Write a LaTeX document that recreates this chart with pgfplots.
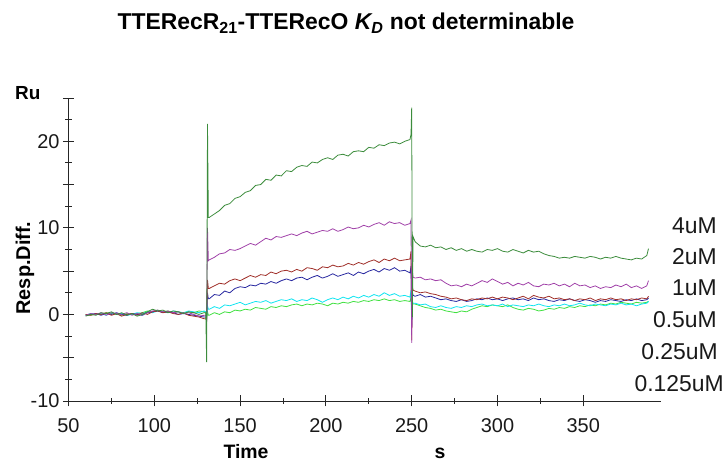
\documentclass[border=0pt]{standalone}
\usepackage{pgfplots}
\pgfplotsset{compat=1.18}
\usepackage{pgfplotstable}
\usepackage{fontspec}
\setmainfont{Liberation Sans}
\definecolor{cA}{HTML}{3C8C3C}
\definecolor{cB}{HTML}{A040A8}
\definecolor{cC}{HTML}{A0302A}
\definecolor{cD}{HTML}{2828A0}
\definecolor{cE}{HTML}{10E4F0}
\definecolor{cF}{HTML}{40E040}
\pgfplotstableread{
t g p r b c l
60 -0.2 -0.1 0.0 -0.1 -0.1 0.0
63 0.0 0.1 -0.1 0.0 0.1 -0.1
66 -0.1 0.0 0.1 0.1 0.0 0.1
69 0.2 0.2 0.0 -0.1 0.1 0.0
72 0.1 -0.1 0.2 0.1 -0.1 0.2
75 0.3 0.2 -0.1 0.0 0.2 0.1
78 0.0 0.1 0.1 0.2 0.0 0.0
81 0.2 0.0 -0.2 0.0 0.1 -0.1
84 -0.1 0.2 0.0 -0.1 -0.1 0.1
87 0.1 -0.1 0.1 0.1 0.0 0.0
90 -0.2 0.1 -0.1 0.0 0.2 0.1
93 0.0 0.0 0.2 -0.1 0.1 0.2
96 0.3 0.2 0.0 0.2 0.3 0.4
99 0.6 0.4 0.3 0.3 0.2 0.3
102 0.4 0.5 0.4 0.4 0.4 0.5
105 0.5 0.3 0.2 0.2 0.3 0.3
108 0.2 0.4 0.3 0.3 0.2 0.4
111 0.4 0.2 0.1 0.2 0.4 0.2
114 0.3 0.3 0.0 0.0 0.3 0.3
117 0.1 0.1 0.2 0.1 0.2 0.1
120 0.3 0.2 -0.1 0.0 0.4 0.3
123 0.2 0.0 -0.2 -0.1 0.3 0.2
126 0.0 -0.2 -0.3 -0.2 0.2 0.4
129 0.2 -0.1 -0.5 -0.3 0.4 0.3
130 0.2 -0.1 -0.5 -0.3 0.3 0.2
130.5 -5.5 -0.5 -0.6 -0.4 -0.2 -0.3
131 22 10 4 2.5 1.0 0.3
131.5 11.2 6.2 3.0 1.8 0.6 -0.1
132 11.2 6.3 3.0 1.8 0.6 -0.1
135 11.6 6.6 3.3 2.3 0.9 0.2
138 12.0 7.0 3.6 2.2 0.7 0.0
141 12.6 7.1 3.5 2.7 1.1 0.3
144 12.8 7.5 3.9 2.5 1.0 0.2
147 13.4 7.4 4.1 3.0 1.2 0.5
150 13.6 7.6 3.9 3.2 1.4 0.4
153 14.1 7.9 4.2 3.1 1.1 0.6
156 14.3 8.2 4.5 3.4 1.3 0.5
159 14.9 8.0 4.3 3.3 1.5 0.8
162 15.0 8.4 4.6 3.6 1.4 0.7
165 15.6 8.8 4.5 3.5 1.6 0.6
168 15.5 8.6 4.9 3.8 1.3 0.9
171 16.1 9.0 4.7 3.6 1.5 0.8
174 16.0 8.9 5.0 3.9 1.7 1.0
177 16.6 9.1 5.1 4.1 1.6 0.9
180 16.5 9.3 4.9 3.9 1.8 1.1
183 17.0 9.1 5.2 4.2 1.5 1.2
186 17.2 9.4 5.0 4.3 1.7 1.0
189 17.1 9.6 5.4 4.0 1.6 1.2
192 17.6 9.3 5.3 4.3 1.9 1.1
195 17.5 9.5 5.1 4.5 1.7 1.3
198 17.9 9.7 5.5 4.2 1.4 1.2
201 18.1 9.6 5.4 4.4 1.7 1.0
204 17.9 9.9 5.7 4.7 1.9 1.3
207 18.4 9.6 5.5 4.4 1.7 1.2
210 18.5 9.8 5.6 4.6 2.0 1.4
213 18.3 10.1 5.9 4.8 1.8 1.3
216 18.8 9.9 5.7 4.5 2.1 1.5
219 18.9 10.0 6.0 4.9 1.9 1.4
222 18.8 10.3 5.8 4.7 2.2 1.6
225 19.3 10.1 6.1 5.0 2.0 1.5
228 19.2 10.4 6.3 5.2 2.3 1.7
231 19.6 10.6 6.0 4.9 2.1 1.6
234 19.5 10.3 6.4 5.3 2.5 1.8
237 19.8 10.7 6.2 5.1 2.2 1.6
240 19.9 10.5 6.5 5.4 2.4 1.7
243 19.7 10.6 6.2 5.0 2.1 1.5
246 20.0 10.3 6.3 5.1 2.2 1.6
249 20.2 10.5 6.4 4.8 2.0 1.5
249.6 20.8 10.9 7.3 5.6 2.8 2.0
250 23.9 -3.3 -3.0 -1.5 -1.2 0.5
250.4 -0.3 5.0 3.2 2.6 1.5 1.3
250.8 9.0 4.3 2.8 2.2 1.3 1.2
252 8.4 4.2 2.7 2.1 1.3 1.2
255 7.9 4.3 2.5 2.3 1.1 1.0
258 7.8 4.0 2.6 2.0 1.2 0.8
261 8.0 4.1 2.4 2.1 0.9 0.7
264 7.7 3.9 2.3 1.9 0.8 0.5
267 7.8 4.0 2.1 1.7 1.0 0.6
270 7.5 3.6 2.0 1.8 0.8 0.4
273 7.7 3.3 1.8 1.6 0.7 0.3
276 7.4 3.4 1.9 1.5 0.9 0.2
279 7.6 3.2 1.7 1.7 0.8 0.4
282 7.3 3.5 1.6 1.5 1.0 0.3
285 7.5 3.3 1.8 1.6 0.9 0.6
288 7.3 3.6 1.7 1.8 1.1 0.8
291 7.2 3.9 1.9 1.7 1.2 1.0
294 7.5 3.7 1.8 1.9 1.0 0.9
297 7.4 4.1 2.0 1.7 1.1 1.1
300 7.6 3.8 1.8 1.8 1.0 1.0
303 7.3 3.5 2.0 1.6 1.2 0.9
306 7.2 3.7 1.9 1.8 0.9 1.1
309 7.5 3.3 1.7 1.9 1.1 0.8
312 7.3 3.6 1.9 1.7 1.0 0.6
315 7.1 3.4 2.1 1.8 0.9 0.5
318 7.4 3.7 1.8 1.6 1.1 0.7
321 7.2 3.3 2.2 1.9 1.0 0.6
324 7.3 3.2 2.0 1.7 1.2 0.4
327 7.0 3.5 1.9 1.8 1.0 0.5
330 6.8 3.4 2.1 1.6 0.9 0.7
333 6.7 3.6 1.8 1.5 1.1 0.6
336 6.5 3.3 1.9 1.7 1.0 0.8
339 6.6 3.5 1.7 1.6 1.2 0.7
342 6.5 3.2 1.8 1.8 1.0 0.9
345 6.7 3.6 1.6 1.6 1.1 0.8
348 6.6 3.3 1.8 1.5 1.3 1.0
351 6.5 3.4 1.7 1.7 1.1 0.9
354 6.7 3.1 1.9 1.6 1.0 1.1
357 6.6 3.3 1.6 1.4 1.2 1.0
360 6.4 3.0 1.8 1.6 1.1 1.2
363 6.6 3.2 1.7 1.5 1.0 1.1
366 6.5 3.1 1.9 1.7 1.2 1.3
369 6.7 3.4 1.7 1.6 1.1 1.2
372 6.5 3.2 1.8 1.5 1.3 1.4
375 6.4 3.5 1.6 1.7 1.1 1.3
378 6.3 3.1 1.8 1.6 1.2 1.2
381 6.5 3.3 1.7 1.8 1.0 1.4
384 6.4 3.0 1.9 1.6 1.2 1.3
387 6.8 3.3 1.8 1.7 1.3 1.4
388 7.6 3.9 2.1 1.9 1.5 1.5
}\data
\begin{document}
\begin{tikzpicture}
\begin{axis}[
  at={(68.5bp,62bp)}, anchor=south west,
  scale only axis, width=592bp, height=303bp,
  xmin=50, xmax=395, ymin=-10, ymax=25,
  axis x line=bottom, axis y line=left,
  axis line style={-, line width=0.9bp, black!85},
  xtick={50,100,...,350}, minor x tick num=1,
  ytick={-10,-5,...,25}, yticklabels={-10,,0,,10,,20,},
  minor y tick num=1,
  tick align=center, major tick length=11bp, minor tick length=6bp,
  tick style={line width=0.9bp, black!85},
  ticklabel style={font=\fontsize{20}{20}\selectfont, text=black!90},
  xticklabel style={yshift=-9bp},
  /pgf/number format/assume math mode=true,
  every axis plot/.append style={line width=0.8bp, mark=none},
  clip=false,
]
\addplot[cF] table[x=t,y=l] {\data};
\addplot[cE] table[x=t,y=c] {\data};
\addplot[cD] table[x=t,y=b] {\data};
\addplot[cC] table[x=t,y=r] {\data};
\addplot[cB] table[x=t,y=p] {\data};
\addplot[cA] table[x=t,y=g] {\data};
\end{axis}
\node[anchor=base, font=\fontsize{23}{23}\selectfont\bfseries, inner sep=0pt] at (346bp,433bp)
  {TTERecR\textsubscript{21}-TTERecO \textit{K\textsubscript{D}} not determinable};
\node[anchor=base west, font=\fontsize{19}{19}\selectfont\bfseries, inner sep=0pt] at (15bp,363bp) {Ru};
\node[rotate=90, font=\fontsize{20}{20}\selectfont\bfseries, inner sep=0pt] at (25bp,195bp) {Resp.Diff.};
\node[anchor=base, font=\fontsize{19.5}{19.5}\selectfont\bfseries, inner sep=0pt] at (246bp,4.5bp) {Time};
\node[anchor=base, font=\fontsize{19.5}{19.5}\selectfont\bfseries, inner sep=0pt] at (440bp,4.5bp) {s};
\begin{scope}[every node/.style={anchor=base east, inner sep=0pt, font=\fontsize{23}{23}\selectfont, text=black!90}]
\node at (717bp,229bp) {4uM};
\node at (717bp,198bp) {2uM};
\node at (717bp,167bp) {1uM};
\node at (717bp,135bp) {0.5uM};
\node at (718bp,103bp) {0.25uM};
\node at (724bp,71bp) {0.125uM};
\end{scope}
\pgfresetboundingbox
\path[use as bounding box] (0,0) rectangle (728bp,463bp);
\end{tikzpicture}
\end{document}
